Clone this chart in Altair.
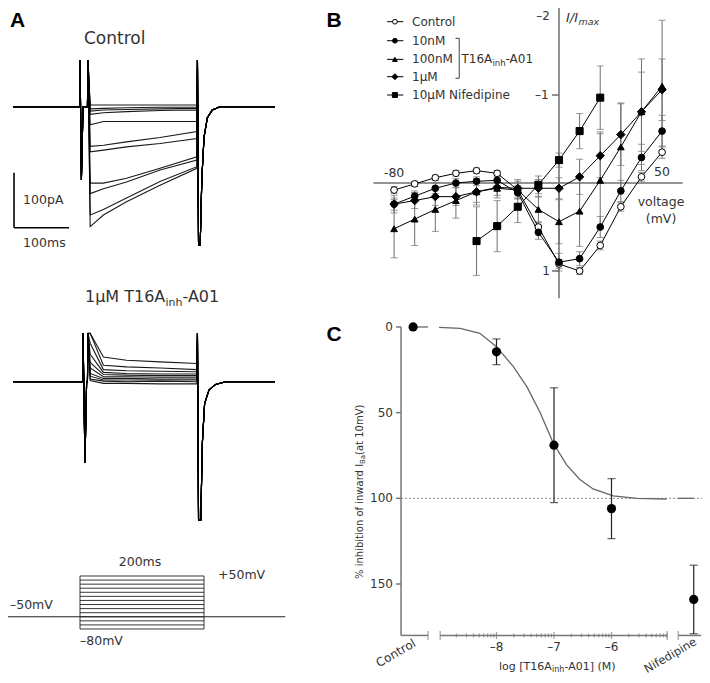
import altair as alt
import pandas as pd
import numpy as np

FONT = "DejaVu Sans"
TXT = "#333333"

# ---------------- Panel A : current traces (time in ms, current in pA) ----------------
trace_times = [4, 28, 70, 131, 198]
control_levels = [
    [3, 3, 3, 3, 3],
    [-4, -3, -2, -1, -1],
    [-8, -6, -5, -4, -3],
    [-14, -11, -9, -7, -6],
    [-33, -27, -27, -27, -27],
    [-72, -70, -64, -56, -45],
    [-82, -79, -73, -67, -58],
    [-139, -139, -130, -112, -91],
    [-158, -149, -137, -115, -97],
    [-197, -187, -166, -136, -109],
    [-218, -197, -173, -143, -112],
]
control_pre_t = [-136, -15, -14.5, -12, -9, -1, 0]
control_pre_v = [0, 0, 85, -133, 0, 0, 85]
control_tail_t = [199, 201, 204, 207, 211, 217, 226, 240, 340]
control_tail_v = [85, -252, -252, -130, -55, -20, -6, 0, 0]

t16a_levels = [
    [88, 45, 39, 36, 33],
    [88, 30, 27, 25, 22],
    [70, 22, 20, 19, 18],
    [50, 17, 15, 14, 14],
    [35, 13, 12, 11, 11],
    [25, 9, 9, 8, 8],
    [15, 6, 6, 5, 5],
    [10, 3, 3, 3, 3],
    [5, 1, 0, 1, 0],
    [2, -3, -3, -4, -4],
]
t16a_pre_t = [-136, -9.5, -9, -5.5, -2.5, -1, 0]
t16a_pre_v = [0, 0, 88, -148, 0, 0, 88]
t16a_tail_t = [199, 201, 205, 208, 212, 220, 232, 250, 340]
t16a_tail_v = [88, -252, -252, -110, -40, -15, -5, 0, 0]

# voltage protocol
protocol_levels = [-80, -70, -60, -50, -40, -30, -20, -10, 0, 10, 20, 30, 40, 50]
protocol_hold = -50
protocol_step = [0, 200]
protocol_span = [-121, 331]

# ---------------- Panel B : I/Imax vs voltage ----------------
voltages = [-80, -70, -60, -50, -40, -30, -20, -10, 0, 10, 20, 30, 40, 50]
ctrl_vals = [0.08, 0.01, -0.06, -0.11, -0.14, -0.11, 0.08, 0.50, 0.92, 1.00, 0.71, 0.27, -0.07, -0.35]
ctrl_err = [0.04, 0.03, 0.03, 0.03, 0.03, 0.03, 0.05, 0.06, 0.05, 0.04, 0.05, 0.05, 0.05, 0.07]
n10_vals = [0.24, 0.15, 0.06, 0.0, -0.02, -0.03, 0.11, 0.56, 0.90, 0.86, 0.50, 0.09, -0.29, -0.59]
n10_err = [0.07, 0.06, 0.06, 0.05, 0.05, 0.06, 0.07, 0.08, 0.10, 0.08, 0.12, 0.12, 0.15, 0.18]
n100_vals = [0.52, 0.41, 0.30, 0.20, 0.10, 0.06, 0.08, 0.30, 0.44, 0.32, -0.03, -0.41, -0.81, -1.10]
n100_err = [0.33, 0.30, 0.25, 0.20, 0.12, 0.08, 0.10, 0.15, 0.25, 0.40, 0.55, 0.50, 0.60, 0.75]
u1_vals = [0.24, 0.20, 0.155, 0.155, 0.10, 0.05, 0.06, 0.06, 0.06, -0.07, -0.31, -0.55, -0.81, -1.06]
u1_err = [0.10, 0.09, 0.10, 0.10, 0.15, 0.12, 0.10, 0.10, 0.12, 0.20, 0.25, 0.35, 0.45, 0.35]
nif_volts = [-40, -30, -20, -10, 0, 10, 20]
nif_vals = [0.66, 0.49, 0.27, 0.02, -0.26, -0.59, -0.97]
nif_err = [0.39, 0.29, 0.18, 0.10, 0.08, 0.20, 0.36]
legend_labels = ["Control", "10nM", "100nM", "1\u03bcM", "10\u03bcM Nifedipine"]

# ---------------- Panel C : concentration response ----------------
conc_log = [-8, -7, -6]
conc_mean = [14.5, 69, 106]
conc_err = [7.5, 33.5, 17.5]
control_mean = 0
nif_mean = 159
nif_sem = 20
fit_x = [-9.0, -8.63, -8.29, -8.0, -7.71, -7.47, -7.24, -7.01, -6.78, -6.55, -6.32, -5.97, -5.56, -5.04]
fit_y = [0.2, 0.8, 3.7, 11.5, 23, 35, 50, 68, 80.5, 89, 94.5, 98.6, 100, 100.4]

# ---------------- scales (panel placement) ----------------
def S(domain, rng):
    return alt.Scale(domain=domain, range=rng, nice=False, zero=False)

A1X = S([-150, 350], [-2.5, 272.5])
A1Y = S([-260, 100], [241.7, 43.7])
A2Y = S([-260, 100], [516.7, 318.7])
A3X = S([-150, 350], [-21, 289])
A3Y = S([-120, 100], [637.3, 547.6])
BX = S([-100, 70], [344.85, 695.3])
BY = S([-2.2, 1.4], [-18.6, 298.2])
CX = S([-10, -4], [373.5, 718.5])
CY = S([-20, 200], [284.7, 661.7])

CTRL_POS = -9.45
NIF_POS = -4.57


def X(f, sc):
    return alt.X(f + ":Q", scale=sc, axis=None)


def Y(f, sc):
    return alt.Y(f + ":Q", scale=sc, axis=None)


def txt(rows, sx, sy, **mk):
    df = pd.DataFrame(rows, columns=["x", "y", "text"])
    opts = dict(font=FONT, color=TXT, baseline="middle")
    opts.update(mk)
    return alt.Chart(df).mark_text(**opts).encode(x=X("x", sx), y=Y("y", sy), text="text:N")


def rules(rows, sx, sy, **mk):
    df = pd.DataFrame(rows, columns=["x1", "x2", "y1", "y2"])
    opts = dict(color="black", strokeWidth=1)
    opts.update(mk)
    return alt.Chart(df).mark_rule(**opts).encode(
        x=X("x1", sx), x2="x2:Q", y=Y("y1", sy), y2="y2:Q")


layers = []

# ---- Panel A traces ----
def trace_df(levels, pre_t, pre_v, tail_t, tail_v):
    rows = []
    for k, lv in enumerate(levels):
        ts = pre_t + trace_times + tail_t
        vs = pre_v + lv + tail_v
        for i, (t, v) in enumerate(zip(ts, vs)):
            rows.append(dict(t=t, v=v, trace=k, idx=i))
    return pd.DataFrame(rows)

for df, sy in [
    (trace_df(control_levels, control_pre_t, control_pre_v, control_tail_t, control_tail_v), A1Y),
    (trace_df(t16a_levels, t16a_pre_t, t16a_pre_v, t16a_tail_t, t16a_tail_v), A2Y),
]:
    layers.append(
        alt.Chart(df).mark_line(color="black", strokeWidth=1.1, opacity=0.9).encode(
            x=X("t", A1X), y=Y("v", sy), detail="trace:N", order="idx:Q"))

# scale bar
layers.append(rules([[-134.5, -134.5, -220, -120], [-134.5, -34.5, -220, -220]], A1X, A1Y, strokeWidth=1.6))
layers.append(txt([[-118, -170, "100pA"], [-118, -248, "100ms"]], A1X, A1Y, fontSize=12.5, align="left"))
layers.append(txt([[48.5, 122.5, "Control"]], A1X, A1Y, fontSize=17, align="center"))
layers.append(txt([[-128, 156, "A"]], A1X, A1Y, fontSize=21, fontWeight="bold",
                  font="Liberation Sans", color="black", align="center"))

# T16A title
layers.append(txt([[-5.5, 154, "1\u03bcM T16A"]], A1X, A2Y, fontSize=16, align="left"))
layers.append(txt([[-5.5, 154, "inh"]], A1X, A2Y, fontSize=11, align="left", dx=80.5, dy=6))
layers.append(txt([[-5.5, 154, "-A01"]], A1X, A2Y, fontSize=16, align="left", dx=97.5))

# protocol
prot_rows = [[protocol_step[0], protocol_step[1], lv, lv] for lv in protocol_levels]
prot_rows += [[protocol_step[0], protocol_step[0], protocol_levels[0], protocol_levels[-1]],
              [protocol_step[1], protocol_step[1], protocol_levels[0], protocol_levels[-1]]]
layers.append(rules(prot_rows, A3X, A3Y, strokeWidth=0.9, color="#222222"))
layers.append(rules([[protocol_span[0], protocol_span[1], protocol_hold, protocol_hold]], A3X, A3Y,
                    strokeWidth=1.2, color="#222222"))
layers.append(txt([[-113, -21, "\u201350mV"], [222.6, 52.5, "+50mV"], [0, -109.4, "\u201380mV"]],
                  A3X, A3Y, fontSize=12.5, align="left"))
layers.append(txt([[96.8, 84.3, "200ms"]], A3X, A3Y, fontSize=12.5, align="center"))

# ---- Panel B ----
GRAY = "#6f6f6f"
layers.append(rules([[-90, 60, 0, 0], [0, 0, -2.02, 1.31]], BX, BY, color=GRAY, strokeWidth=1.5))
layers.append(rules([[-3.4, 0, -2, -2], [-3.4, 0, -1, -1], [-3.4, 0, 1, 1]], BX, BY, color=GRAY, strokeWidth=1.5))
layers.append(txt([[-4.4, -1.9, "\u20132"], [-5.0, -1, "\u20131"], [-4.4, 1, "1"]], BX, BY, fontSize=12, align="right"))
layers.append(txt([[-80, -0.11, "-80"], [50, -0.12, "50"], [49.5, 0.216, "voltage"], [49.5, 0.41, "(mV)"]],
                  BX, BY, fontSize=12.5, align="center"))
layers.append(txt([[3.4, -1.88, "I/I"]], BX, BY, fontSize=13, fontStyle="italic", align="left"))
layers.append(txt([[3.4, -1.88, "max"]], BX, BY, fontSize=9.5, fontStyle="italic", align="left", dx=12.5, dy=4))
layers.append(txt([[-109.1, -1.845, "B"]], BX, BY, fontSize=21, fontWeight="bold",
                  font="Liberation Sans", color="black", align="center"))

series = [
    ("Control", voltages, ctrl_vals, ctrl_err),
    ("10nM", voltages, n10_vals, n10_err),
    ("100nM", voltages, n100_vals, n100_err),
    ("1uM", voltages, u1_vals, u1_err),
    ("Nif", nif_volts, nif_vals, nif_err),
]
brows = []
for name, xs, ys, es in series:
    for xv, yv, ev in zip(xs, ys, es):
        brows.append(dict(series=name, v=xv, y=yv, lo=yv - ev, hi=yv + ev))
bdf = pd.DataFrame(brows)

layers.append(alt.Chart(bdf).mark_rule(color=GRAY, strokeWidth=1).encode(
    x=X("v", BX), y=Y("lo", BY), y2="hi:Q"))
for f in ["lo", "hi"]:
    layers.append(alt.Chart(bdf).mark_tick(orient="horizontal", size=7, thickness=1, color=GRAY).encode(
        x=X("v", BX), y=Y(f, BY)))
layers.append(alt.Chart(bdf).mark_line(color="black", strokeWidth=1).encode(
    x=X("v", BX), y=Y("y", BY), detail="series:N"))

shape_map = [("Control", "circle", "white", 45), ("10nM", "circle", "black", 45),
             ("100nM", "triangle-up", "black", 45), ("1uM", "diamond", "black", 70),
             ("Nif", "square", "black", 50)]
for name, shp, fill, sz in shape_map:
    layers.append(alt.Chart(bdf[bdf.series == name]).mark_point(
        shape=shp, filled=True, fill=fill, stroke="black", strokeWidth=1, size=sz, opacity=1).encode(
        x=X("v", BX), y=Y("y", BY)))

# legend
leg_y = [-1.833, -1.617, -1.405, -1.208, -1.0]
layers.append(rules([[-83.4, -75.5, yy, yy] for yy in leg_y], BX, BY, strokeWidth=1))
for (name, shp, fill, sz), yy in zip(shape_map, leg_y):
    layers.append(alt.Chart(pd.DataFrame({"x": [-79.6], "y": [yy]})).mark_point(
        shape=shp, filled=True, fill=fill, stroke="black", strokeWidth=1, size=sz * 0.5, opacity=1).encode(
        x=X("x", BX), y=Y("y", BY)))
layers.append(txt([[-71.3, yy, lab] for yy, lab in zip(leg_y, legend_labels)], BX, BY,
                  fontSize=12, align="left"))
layers.append(rules([[-48.4, -48.4, -1.644, -1.19], [-50.2, -48.4, -1.644, -1.644],
                     [-50.2, -48.4, -1.19, -1.19]], BX, BY, strokeWidth=1, color="#444444"))
layers.append(txt([[-47.3, -1.405, "T16A"]], BX, BY, fontSize=12, align="left"))
layers.append(txt([[-47.3, -1.405, "inh"]], BX, BY, fontSize=8.5, align="left", dx=31, dy=4))
layers.append(txt([[-47.3, -1.405, "-A01"]], BX, BY, fontSize=12, align="left", dx=44))

# ---- Panel C ----
CAX = "#777777"
YAX = -9.66
layers.append(rules([[YAX, YAX, 0, 180],
                     [YAX, -9.19, 180, 180],
                     [-8.98, -5.03, 180, 180],
                     [-4.84, -4.44, 180, 180]], CX, CY, color=CAX, strokeWidth=1.5))
layers.append(rules([[YAX - 0.087, YAX, yv, yv] for yv in [0, 50, 100, 150]], CX, CY,
                    color=CAX, strokeWidth=1.5))
minor = [d + np.log10(k) for d in [-9, -8, -7, -6] for k in range(2, 10)]
for pos, sz in [([-9.19, -8.98, -5.03, -4.84], 9), ([-8, -7, -6], 7), (minor, 4)]:
    layers.append(alt.Chart(pd.DataFrame({"x": pos, "y": [180] * len(pos)})).mark_tick(
        orient="vertical", size=sz, thickness=1.2, color=CAX).encode(x=X("x", CX), y=Y("y", CY)))
layers.append(txt([[-9.8, yv, str(yv)] for yv in [0, 50, 100, 150]], CX, CY, fontSize=12, align="right"))
layers.append(txt([[p, 186.8, "\u2013" + str(abs(p))] for p in conc_log], CX, CY, fontSize=12, align="center"))
layers.append(txt([[-9.75, 190.3, "Control"]], CX, CY, fontSize=12, align="center", angle=330))
layers.append(txt([[-4.97, 192.0, "Nifedipine"]], CX, CY, fontSize=11.5, align="center", angle=330))
layers.append(txt([[-7.957, 198.4, "log [T16A"]], CX, CY, fontSize=11, align="left"))
layers.append(txt([[-7.957, 198.4, "inh"]], CX, CY, fontSize=8, align="left", dx=53, dy=3))
layers.append(txt([[-7.957, 198.4, "-A01] (M)"]], CX, CY, fontSize=11, align="left", dx=65.5))
layers.append(txt([[-10.374, 95.1, "% inhibition of inward I"]], CX, CY, fontSize=10, align="left",
                  angle=270, dx=-89))
layers.append(txt([[-10.374, 95.1, "Ba"]], CX, CY, fontSize=7, align="left", angle=270, dx=26, dy=3))
layers.append(txt([[-10.374, 95.1, " (at 10mV)"]], CX, CY, fontSize=10, align="left", angle=270, dx=35))
layers.append(txt([[-10.826, 4.67, "C"]], CX, CY, fontSize=21, fontWeight="bold",
                  font="Liberation Sans", color="black", align="center"))

# 100% reference line
layers.append(rules([[YAX, -4.42, 100, 100]], CX, CY, color="#888888", strokeWidth=1, strokeDash=[2, 2]))
# fitted curve and stubs
fit_df = pd.DataFrame({"x": fit_x, "y": fit_y})
layers.append(alt.Chart(fit_df).mark_line(color="#666666", strokeWidth=1.3).encode(
    x=X("x", CX), y=Y("y", CY)))
layers.append(rules([[CTRL_POS, -9.19, control_mean, control_mean], [-4.84, NIF_POS, 100, 100]], CX, CY,
                    color="#666666", strokeWidth=1.3))

cdf = pd.DataFrame({
    "x": conc_log + [NIF_POS],
    "y": conc_mean + [nif_mean],
    "lo": [m - e for m, e in zip(conc_mean, conc_err)] + [nif_mean - nif_sem],
    "hi": [m + e for m, e in zip(conc_mean, conc_err)] + [nif_mean + nif_sem],
})
layers.append(alt.Chart(cdf).mark_rule(color="#222222", strokeWidth=1.2).encode(
    x=X("x", CX), y=Y("lo", CY), y2="hi:Q"))
for f in ["lo", "hi"]:
    layers.append(alt.Chart(cdf).mark_tick(orient="horizontal", size=8, thickness=1.2, color="#222222").encode(
        x=X("x", CX), y=Y(f, CY)))
pts = pd.DataFrame({"x": [CTRL_POS] + conc_log + [NIF_POS], "y": [control_mean] + conc_mean + [nif_mean]})
layers.append(alt.Chart(pts).mark_circle(color="black", size=85, opacity=1).encode(
    x=X("x", CX), y=Y("y", CY)))

chart = alt.layer(*layers).resolve_scale(x="independent", y="independent").properties(
    width=694, height=667, autosize=alt.AutoSizeParams(type="none"), padding=0
).configure_view(stroke=None)

chart.save("out.html", embed_options={"renderer": "svg", "actions": False})
